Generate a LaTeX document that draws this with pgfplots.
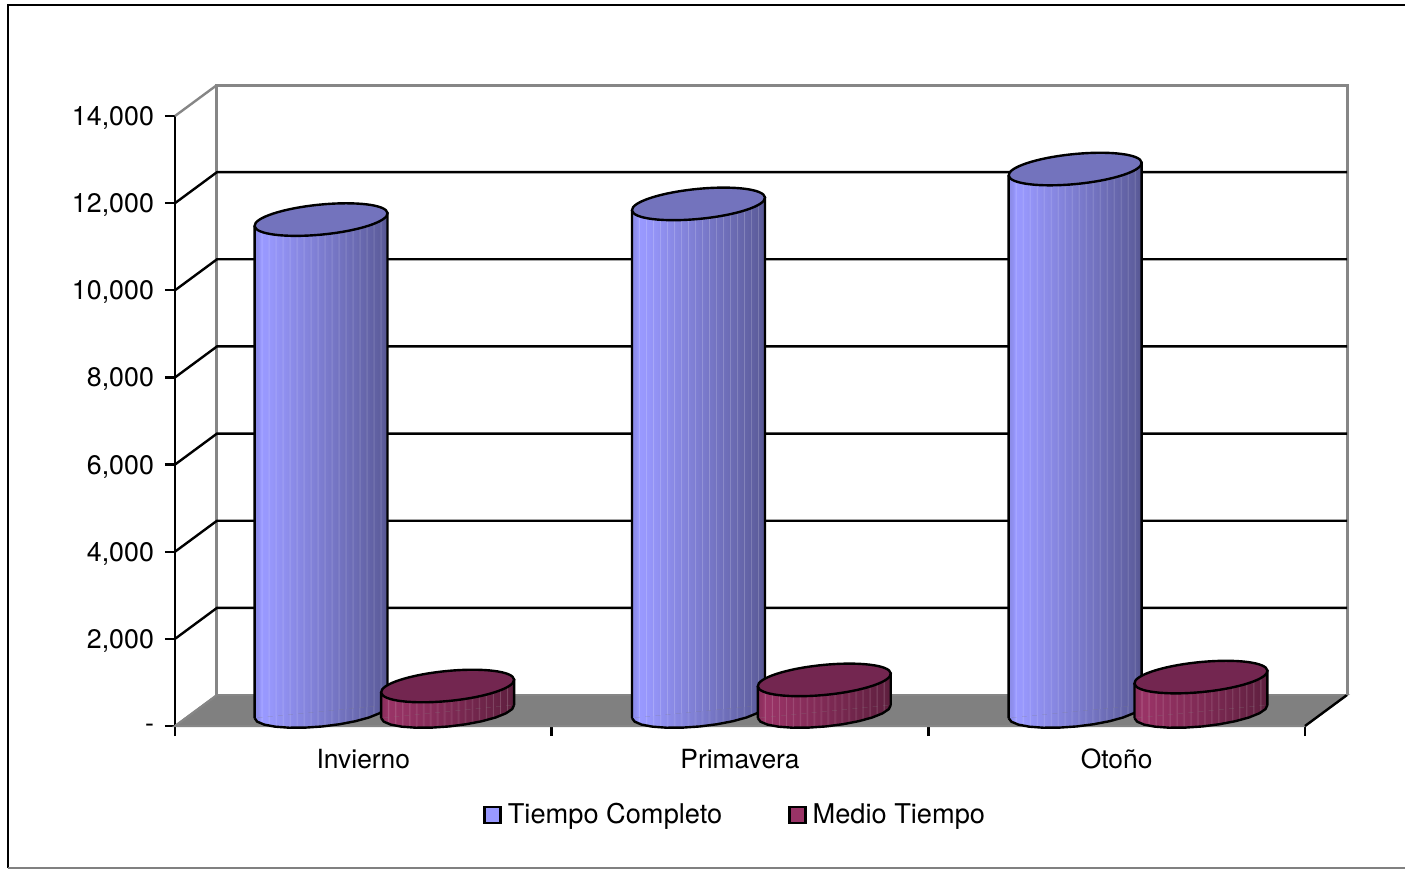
\documentclass[border=0pt]{standalone}
\usepackage{fontspec}
\setmainfont{TeX Gyre Heros}
\usepackage{pgfplots}
\usepackage{pgfplotstable}
\pgfplotsset{compat=1.18}
\definecolor{bluelight}{HTML}{9999FF}
\definecolor{bluedark}{HTML}{55558F}
\definecolor{bluecap}{HTML}{7373BD}
\definecolor{redlight}{HTML}{993366}
\definecolor{reddark}{HTML}{5A1E3C}
\definecolor{redcap}{HTML}{732650}
\definecolor{wall}{HTML}{868686}
\definecolor{floorgray}{HTML}{808080}

% cylinder body: side gradient with thin pale stripes, as in the original
\newcommand\cylshade[3]{%
  \xdef\stops{color(0bp)=(#2!90!black); color(25bp)=(#2!90!black); color(26.5bp)=(#2!94!black)}%
  \foreach \i in {1,...,18}{%
    \pgfmathsetmacro\p{25+\i*50/19}%
    \pgfmathsetmacro\pa{\p-0.3}%
    \pgfmathsetmacro\pb{\p+0.3}%
    \pgfmathsetmacro\m{min(100,108-\i*100/19)}%
    \xdef\stops{\stops; color(\pa bp)=(#2!\m!#3); color(\p bp)=(#2!\m!#3!80!white); color(\pb bp)=(#2!\m!#3)}%
  }%
  \edef\tmp{\noexpand\pgfdeclarehorizontalshading{#1}{100bp}{\stops; color(75bp)=(#3); color(100bp)=(#3)}}\tmp
}
\cylshade{bluecyl}{bluelight}{bluedark}
\cylshade{redcyl}{redlight}{reddark}

% top of a cylinder, tilted ellipse
\pgfdeclareplotmark{tilted}{%
  \pgfpathellipse{\pgfpointorigin}{\pgfqpoint{33.24pt}{3.26pt}}{\pgfqpoint{-0.73pt}{7.46pt}}%
  \pgfusepathqfillstroke}

% lower half of the same ellipse, relative to the centre of the cylinder's foot
\pgfplotstableread{
x y
-0.1765 -150
-0.1695 -233
-0.1509 -301
-0.1220 -348
-0.0849 -372
-0.0419 -370
0.0039 -343
0.0494 -292
0.0916 -222
0.1275 -137
0.1548 -42
0.1715 56
0.1765 150
}\basearc

\pgfplotsset{
  depth/.style={xshift=10.5pt,yshift=7.25pt},
  body/.style={depth,forget plot,shade,shading=#1,draw=black,line width=1.2pt,line join=round},
  cap/.style={depth,forget plot,only marks,mark=tilted,mark options={fill=#1,draw=black,line width=1.2pt}},
}
\newcommand\foot[2]{\addplot[body=#1] table[x expr=\thisrow{x}+#2,y=y] {\basearc};}

\begin{document}
\begin{tikzpicture}
\path[use as bounding box] (0,0) rectangle (702.5pt,434.5pt);
\draw[black,line width=1.2pt] (4pt,0.5pt) -- (4pt,432pt) -- (702.5pt,432pt);
\draw[gray,line width=0.6pt] (4pt,0.5pt) -- (702.5pt,0.5pt);
\begin{axis}[
    at={(87.5pt,71.5pt)},
    anchor=south west,
    scale only axis,
    width=565pt,
    height=305pt,
    xmin=0, xmax=3,
    ymin=0, ymax=14000,
    clip=false,
    axis x line*=bottom,
    axis y line*=left,
    axis line style={black,line width=1.2pt,-},
    tick align=outside,
    major tick length=5pt,
    tick style={black,line width=1.2pt},
    xtick={0,1,2,3},
    xticklabels={Invierno,Primavera,Otoño},
    x tick label as interval,
    scaled y ticks=false,
    ytick={0,2000,4000,6000,8000,10000,12000,14000},
    yticklabels={-,{2,000},{4,000},{6,000},{8,000},{10,000},{12,000},{14,000}},
    x tick label style={font=\fontsize{13.2}{15}\selectfont,yshift=-3pt},
    y tick label style={font=\fontsize{13.4}{15}\selectfont,xshift=-2pt,yshift=-1pt},
    legend style={at={(0.4967,-0.146)},anchor=center,draw=none,fill=none,
      legend columns=2,font=\fontsize{13.6}{15}\selectfont,
      /tikz/every even column/.append style={column sep=31pt},
      /tikz/every odd column/.append style={column sep=1pt}},
    legend image code/.code={\draw[#1] (0pt,-4pt) rectangle (8pt,4pt);},
]
\addlegendimage{fill=bluelight,draw=black,line width=1.2pt}
\addlegendentry{Tiempo Completo}
\addlegendimage{fill=redlight,draw=black,line width=1.2pt}
\addlegendentry{Medio Tiempo}

% floor and walls
\addplot[forget plot,fill=floorgray,draw=wall,line width=1pt] coordinates {(0,0) (0.1115,711.5) (3.1115,711.5) (3,0)} -- cycle;
\addplot[forget plot,black,line width=1.2pt] coordinates {(3,0) (3.1115,711.5)};
\addplot[forget plot,wall,line width=1.5pt] coordinates {(0.1115,711.5) (0.1115,14711.5) (3.1115,14711.5) (3.1115,711.5)};
\addplot[forget plot,wall,line width=1.2pt] coordinates {(0,14000) (0.1115,14711.5)};
\addplot[forget plot,wall,line width=1pt] coordinates {(0,0) (0.1115,711.5)};
% gridlines
\addplot[forget plot,black,line width=1.2pt] coordinates {(0,2000) (0.1115,2711.5) (3.1115,2711.5)};
\addplot[forget plot,black,line width=1.2pt] coordinates {(0,4000) (0.1115,4711.5) (3.1115,4711.5)};
\addplot[forget plot,black,line width=1.2pt] coordinates {(0,6000) (0.1115,6711.5) (3.1115,6711.5)};
\addplot[forget plot,black,line width=1.2pt] coordinates {(0,8000) (0.1115,8711.5) (3.1115,8711.5)};
\addplot[forget plot,black,line width=1.2pt] coordinates {(0,10000) (0.1115,10711.5) (3.1115,10711.5)};
\addplot[forget plot,black,line width=1.2pt] coordinates {(0,12000) (0.1115,12711.5) (3.1115,12711.5)};

% Invierno
\foot{bluecyl}{0.332}
\addplot[body=bluecyl] coordinates {(0.1555,-150) (0.1555,11140) (0.5085,11440) (0.5085,150)};
\addplot[cap=bluecap] coordinates {(0.332,11290)};
\foot{redcyl}{0.668}
\addplot[body=redcyl] coordinates {(0.4915,-150) (0.4915,435) (0.8445,735) (0.8445,150)};
\addplot[cap=redcap] coordinates {(0.668,585)};
% Primavera
\foot{bluecyl}{1.334}
\addplot[body=bluecyl] coordinates {(1.1575,-150) (1.1575,11500) (1.5105,11800) (1.5105,150)};
\addplot[cap=bluecap] coordinates {(1.334,11650)};
\foot{redcyl}{1.668}
\addplot[body=redcyl] coordinates {(1.4915,-150) (1.4915,575) (1.8445,875) (1.8445,150)};
\addplot[cap=redcap] coordinates {(1.668,725)};
% Otoño
\foot{bluecyl}{2.334}
\addplot[body=bluecyl] coordinates {(2.1575,-150) (2.1575,12300) (2.5105,12600) (2.5105,150)};
\addplot[cap=bluecap] coordinates {(2.334,12450)};
\foot{redcyl}{2.668}
\addplot[body=redcyl] coordinates {(2.4915,-150) (2.4915,640) (2.8445,940) (2.8445,150)};
\addplot[cap=redcap] coordinates {(2.668,790)};
\end{axis}
\end{tikzpicture}
\end{document}
